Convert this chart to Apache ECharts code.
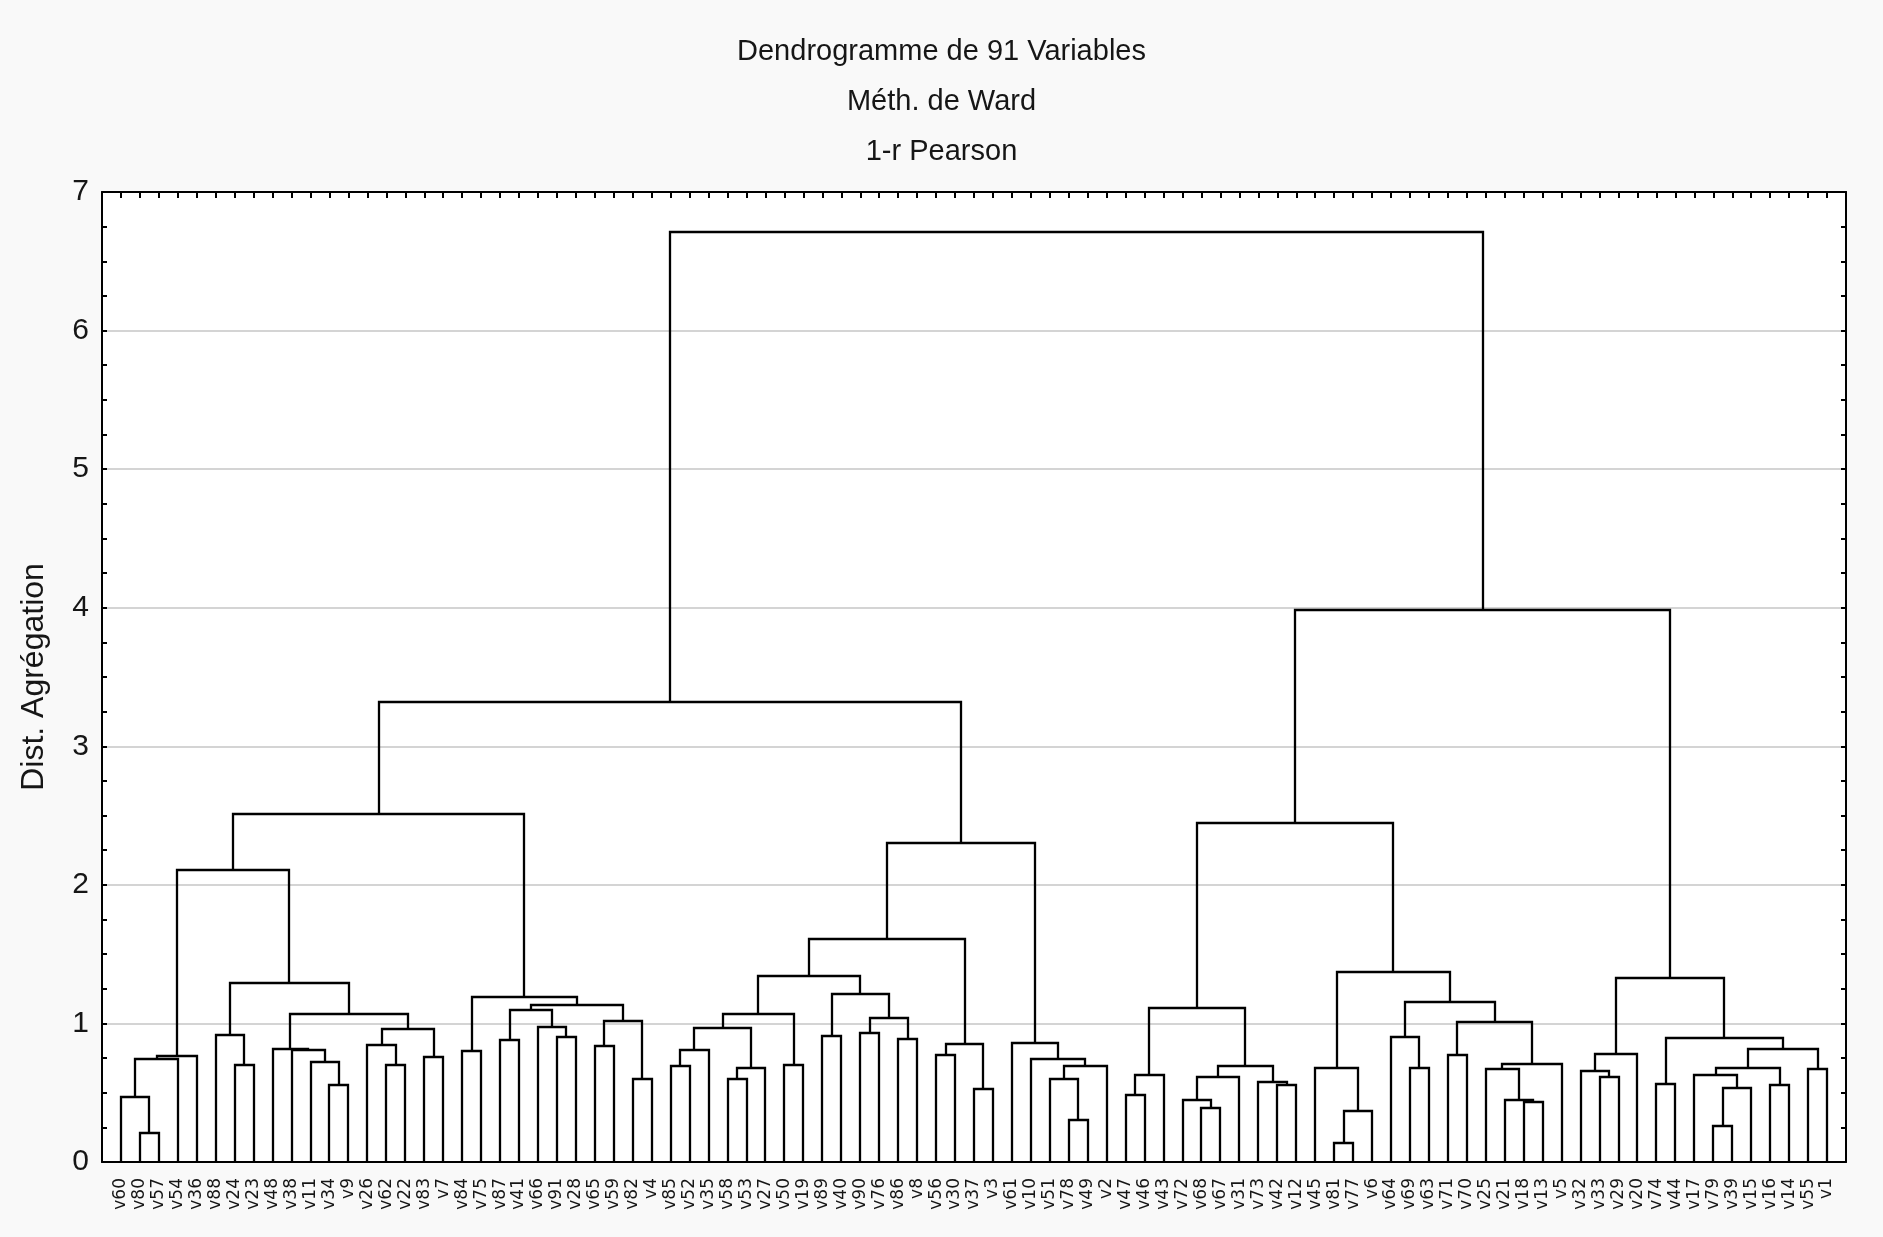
<!DOCTYPE html>
<html>
<head>
<meta charset="utf-8">
<script src="https://cdn.jsdelivr.net/npm/echarts@6/dist/echarts.min.js"></script>
<style>
html,body{margin:0;padding:0;background:#f9f9f9;}
#chart{width:1883px;height:1237px;}
</style>
</head>
<body>
<div id="chart"></div>
<script>
// Leaf labels in the order they appear along the axis
const leafLabels = [
  'v60','v80','v57','v54','v36','v88','v24','v23','v48','v38','v11','v34','v9','v26','v62','v22','v83','v7',
  'v84','v75','v87','v41','v66','v91','v28','v65','v59','v82','v4',
  'v85','v52','v35','v58','v53','v27','v50','v19','v89','v40','v90','v76','v86','v8','v56','v30','v37',
  'v3','v61','v10','v51','v78','v49','v2',
  'v47','v46','v43','v72','v68','v67','v31','v73','v42','v12','v45','v81','v77','v6','v64','v69','v63',
  'v71','v70','v25','v21','v18','v13','v5',
  'v32','v33','v29','v20','v74','v44','v17','v79','v39','v15','v16','v14','v55','v1'
];
// Merges: node ids < 91 are leaf positions, id 91+k is merge k
const mergeLeft = [
  1,0,92,93,6,5,11,10,9,8,14,13,16,102,100,96,94,
  18,20,23,22,109,25,27,113,112,108,107,
  29,119,32,121,120,35,123,37,39,41,127,126,125,43,45,132,131,50,49,137,48,47,135,118,
  53,143,57,56,146,61,60,147,144,64,152,63,68,67,70,74,73,72,160,157,156,154,151,
  78,77,167,81,84,170,83,87,172,89,174,169,168,165,142
];
const mergeRight = [
  2,91,3,4,7,95,12,97,98,99,15,101,17,103,104,105,106,
  19,21,24,110,111,26,28,114,115,116,117,
  30,31,33,34,122,36,124,38,40,42,128,129,130,44,46,133,134,51,136,52,138,139,140,141,
  54,55,58,145,59,62,148,149,150,65,66,153,69,155,71,75,158,159,76,161,162,163,164,
  79,166,80,82,85,86,171,88,173,90,175,176,177,178,179
];
const mergeHeight = [
  0.21,0.47,0.74,0.765,0.70,0.92,0.555,0.72,0.81,0.818,0.70,0.846,0.758,0.957,1.065,1.29,2.11,
  0.80,0.88,0.90,0.975,1.10,0.84,0.60,1.02,1.135,1.19,2.51,
  0.69,0.81,0.60,0.68,0.97,0.70,1.07,0.91,0.93,0.89,1.04,1.21,1.34,0.77,0.53,0.85,1.61,0.30,0.60,0.69,0.74,0.86,2.30,3.32,
  0.48,0.625,0.39,0.45,0.615,0.555,0.58,0.69,1.11,0.135,0.37,0.68,0.68,0.90,0.77,0.433,0.447,0.67,0.71,1.01,1.155,1.37,2.45,
  0.615,0.66,0.78,0.565,0.26,0.537,0.625,0.553,0.68,0.67,0.818,0.897,1.33,3.98,6.71
];
const yMin = 0, yMax = 7, yStep = 1;
const titleLines = ['Dendrogramme de 91 Variables', 'Méth. de Ward', '1-r Pearson'];
const yName = 'Dist. Agrégation';

// Build the bracket segments from the merge table
const N = leafLabels.length;
const nodeX = [], nodeH = [];
for (let i = 0; i < N; i++) { nodeX[i] = i + 1; nodeH[i] = 0; }
const links = [];
for (let k = 0; k < mergeHeight.length; k++) {
  const a = mergeLeft[k], b = mergeRight[k], h = mergeHeight[k];
  links.push([nodeX[a], nodeH[a], nodeX[b], nodeH[b], h]);
  nodeX[N + k] = (nodeX[a] + nodeX[b]) / 2;
  nodeH[N + k] = h;
}

const chart = echarts.init(document.getElementById('chart'), null, {renderer: 'canvas'});
const txt = '#161616';
function px(p) { return [Math.round(p[0]), Math.round(p[1])]; }
const option = {
  backgroundColor: '#f9f9f9',
  animation: false,
  title: {
    text: titleLines.join('\n'),
    left: 'center', top: 27, padding: 0,
    textStyle: {fontFamily: 'Liberation Sans', fontSize: 29, fontWeight: 'normal', color: txt, lineHeight: 50}
  },
  grid: {left: 102, right: 37, top: 192, bottom: 75, show: true, backgroundColor: '#ffffff', borderWidth: 0, containLabel: false, outerBoundsMode: 'none'},
  xAxis: [
    {
      type: 'value', min: 0, max: N + 1, interval: 1, position: 'bottom',
      axisLine: {show: true, onZero: false, lineStyle: {color: '#000', width: 2}},
      axisTick: {show: false},
      splitLine: {show: false},
      axisLabel: {
        show: true, rotate: 90, margin: 16, fontFamily: 'DejaVu Sans', fontSize: 17, color: txt,
        showMinLabel: true, showMaxLabel: true,
        formatter: function (v) { return leafLabels[v - 1] || ''; }
      }
    },
    {
      type: 'value', min: 0, max: N + 1, interval: 1, position: 'top',
      axisLine: {show: true, onZero: false, lineStyle: {color: '#000', width: 2}},
      axisTick: {show: true, inside: true, length: 6, lineStyle: {color: '#000', width: 2}},
      splitLine: {show: false},
      axisLabel: {show: false}
    }
  ],
  yAxis: [
    {
      type: 'value', min: yMin, max: yMax, interval: yStep, position: 'left',
      name: yName, nameLocation: 'middle', nameGap: 52, nameRotate: 90,
      nameTextStyle: {fontFamily: 'Liberation Sans', fontSize: 32, color: txt},
      axisLine: {show: true, onZero: false, lineStyle: {color: '#000', width: 2}},
      axisTick: {show: true, inside: true, length: 5, lineStyle: {color: '#000', width: 2}},
      minorTick: {show: true, splitNumber: 4, length: 5, lineStyle: {color: '#000', width: 2}},
      splitLine: {show: true, lineStyle: {color: '#d4d4d4', width: 2}},
      axisLabel: {fontFamily: 'Liberation Sans', fontSize: 30, color: txt, margin: 13}
    },
    {
      type: 'value', min: yMin, max: yMax, interval: yStep, position: 'right',
      axisLine: {show: true, onZero: false, lineStyle: {color: '#000', width: 2}},
      axisTick: {show: true, inside: true, length: 5, lineStyle: {color: '#000', width: 2}},
      minorTick: {show: true, splitNumber: 4, length: 5, lineStyle: {color: '#000', width: 2}},
      splitLine: {show: false},
      axisLabel: {show: false}
    }
  ],
  series: [{
    type: 'custom',
    xAxisIndex: 0, yAxisIndex: 0,
    dimensions: ['xa', 'ha', 'xb', 'hb', 'h'],
    encode: {x: [0, 2], y: [1, 3, 4]},
    data: links,
    renderItem: function (params, api) {
      const p1 = px(api.coord([api.value(0), api.value(1)]));
      const p2 = px(api.coord([api.value(0), api.value(4)]));
      const p3 = px(api.coord([api.value(2), api.value(4)]));
      const p4 = px(api.coord([api.value(2), api.value(3)]));
      return {
        type: 'polyline',
        shape: {points: [p1, p2, p3, p4]},
        style: {stroke: '#000', lineWidth: 2.3, fill: null, lineJoin: 'miter'}
      };
    },
    z: 5
  }]
};
chart.setOption(option);
</script>
</body>
</html>
